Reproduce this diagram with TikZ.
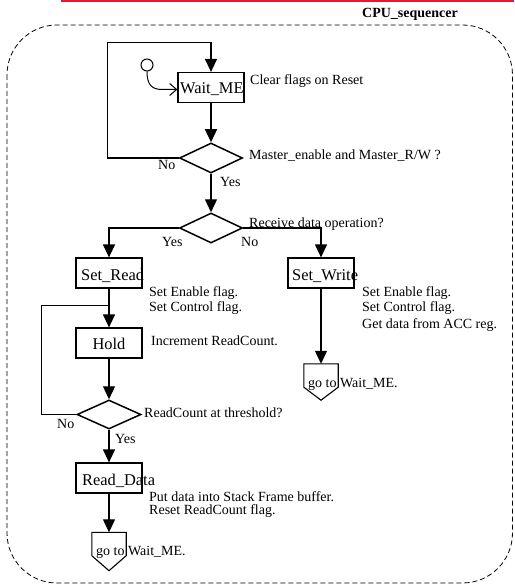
\documentclass[tikz,border=0pt]{standalone}
\usepackage{fontspec}
\setmainfont{Liberation Serif}
\usetikzlibrary{shapes.geometric,arrows.meta,calc}
\definecolor{rulered}{RGB}{222,28,52}
\begin{document}
\begin{tikzpicture}[x=1pt,y=-1pt,
  state/.style={draw,line width=1.2pt,minimum width=66pt,minimum height=30pt,inner sep=0pt},
  decision/.style={draw,diamond,line width=1.5pt,minimum width=63pt,minimum height=30pt,inner sep=0pt},
  flow/.style={line width=1.2pt,-{Triangle[length=13pt,width=12pt]}},
  link/.style={line width=1.2pt},
  gobox/.style={minimum width=34pt,minimum height=23pt,inner sep=0pt},
  goshape/.style={line width=1.1pt},
  statelabel/.style={font=\fontsize{16.4}{18}\selectfont,inner sep=0pt,anchor=base west},
  note/.style={font=\fontsize{14}{16}\selectfont,inner sep=0pt,anchor=base west},
  initarrow/.style={line width=1pt,-{Straight Barb[length=7pt,width=12pt]}},
]
\useasboundingbox (0,0) rectangle (514,585);

% header rule and title
\draw[rulered,line width=2pt] (61,1) -- (514,1);
\node[note,font=\bfseries\fontsize{14}{16}\selectfont] (title) at (362,17.5) {CPU\_sequencer};

% state machine boundary
\draw[dash pattern=on 5pt off 3pt,line width=0.8pt,rounded corners=50pt] (7,25) rectangle (512.5,583);

% Wait_ME state with reset entry
\node[state] (wait) at (211,87.5) {};
\node[statelabel] (waitlbl) at (180,94) {Wait\_ME};
\node[note] (waitnote) at (250,85) {Clear flags on Reset};
\node[draw,circle,line width=1pt,minimum size=12pt,inner sep=0pt] (init) at (147,65) {};
\draw[initarrow] (init.south) .. controls +(0,14) and +(-10,0) .. ($(wait.west)+(-15,2)$) -- ($(wait.west)+(0,2)$);

% first decision
\node[decision] (d1) at (211,158) {};
\draw[flow] (wait.south) -- (d1.north);
\draw[flow] (d1.west) -- ++(-71,0) |- ($(wait.north)+(0,-29)$) -- (wait.north);
\node[note] (no1) at (158,170) {No};
\node[note] (yes1) at (220,186) {Yes};
\node[note] (q1) at (249,160) {Master\_enable and Master\_R/W ?};

% second decision
\node[decision] (d2) at (211,228) {};
\draw[flow] (d1.south) -- (d2.north);
\node[note] (q2) at (249,227) {Receive data operation?};
\node[note] (yes2) at (162,246) {Yes};
\node[note] (no2) at (241,246) {No};

% read branch
\node[state] (setread) at (109,273) {};
\node[statelabel] (setreadlbl) at (81,280) {Set\_Read};
\draw[flow] (d2.west) -| (setread.north);
\node[note] (srn1) at (149,296) {Set Enable flag.};
\node[note] (srn2) at (149,311) {Set Control flag.};

\node[state] (hold) at (109,343) {};
\node[statelabel,anchor=base] (holdlbl) at (109,349) {Hold};
\node[note] (holdnote) at (151,345) {Increment ReadCount.};
\coordinate (join) at ($(setread.south)+(0,17)$);
\draw[flow] (setread.south) -- (hold.north);

\node[decision,minimum width=64pt,minimum height=29pt] (d3) at (109,414.5) {};
\draw[flow] (hold.south) -- (d3.north);
\draw[link] (d3.west) -- ++(-35,0) |- (join);
\node[note] (q3) at (144,417) {ReadCount at threshold?};
\node[note] (no3) at (57,428) {No};
\node[note] (yes3) at (115,443) {Yes};

\node[state] (readdata) at (109,478) {};
\node[statelabel] (readdatalbl) at (82,485) {Read\_Data};
\draw[flow] (d3.south) -- (readdata.north);
\node[note] (rdn1) at (149,501) {Put data into Stack Frame buffer.};
\node[note] (rdn2) at (149,514) {Reset ReadCount flag.};

\node[gobox] (goB) at (109,544) {};
\draw[goshape] (goB.north west) -- (goB.north east) -- (goB.south east) -- ($(goB.south)+(0,15)$) -- (goB.south west) -- cycle;
\draw[flow] (readdata.south) -- (goB.north);
\node[note] (goBtxt) at (96,555) {go to Wait\_ME.};

% write branch
\node[state] (setwrite) at (321,273) {};
\node[statelabel] (setwritelbl) at (292,280) {Set\_Write};
\draw[flow] (d2.east) -| (setwrite.north);
\node[note] (swn1) at (362,296) {Set Enable flag.};
\node[note] (swn2) at (362,311) {Set Control flag.};
\node[note] (swn3) at (362,328) {Get data from ACC reg.};

\node[gobox] (goR) at (321,375.5) {};
\draw[goshape] (goR.north west) -- (goR.north east) -- (goR.south east) -- ($(goR.south)+(0,13)$) -- (goR.south west) -- cycle;
\draw[flow] (setwrite.south) -- (goR.north);
\node[note] (goRtxt) at (308,387) {go to Wait\_ME.};
\end{tikzpicture}
\end{document}
